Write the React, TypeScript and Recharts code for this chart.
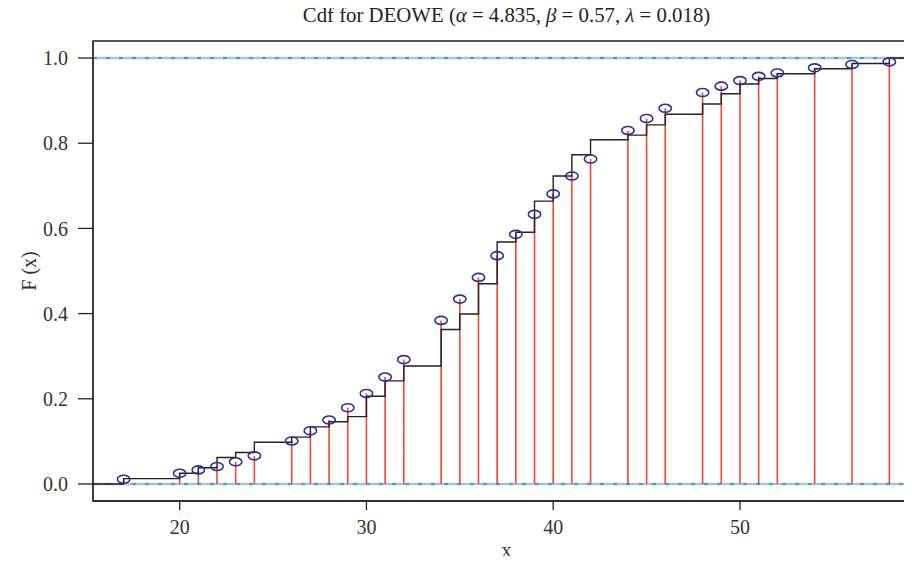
import { ComposedChart, Line, Scatter, XAxis, YAxis, ReferenceLine, ReferenceArea } from 'recharts';

// observed values (x) with empirical cdf and fitted DEOWE cdf
const xValues = [17, 20, 21, 22, 23, 24, 26, 27, 28, 29, 30, 31, 32, 34, 35, 36, 37, 38, 39, 40, 41, 42, 44, 45, 46, 48, 49, 50, 51, 52, 54, 56, 58];
const empiricalCdf = [0.0125, 0.025, 0.038, 0.062, 0.074, 0.098, 0.110, 0.134, 0.146, 0.158, 0.206, 0.242, 0.277, 0.3625, 0.399, 0.470, 0.568, 0.591, 0.664, 0.723, 0.773, 0.808, 0.819, 0.843, 0.868, 0.892, 0.916, 0.939, 0.952, 0.963, 0.975, 0.987, 1.0];
const fittedCdf = [0.011, 0.025, 0.033, 0.041, 0.052, 0.066, 0.101, 0.125, 0.150, 0.179, 0.2125, 0.251, 0.292, 0.384, 0.434, 0.485, 0.536, 0.586, 0.633, 0.681, 0.723, 0.763, 0.830, 0.858, 0.882, 0.919, 0.934, 0.947, 0.957, 0.965, 0.977, 0.985, 0.991];

const xTicks = [20, 30, 40, 50];
const yTicks = [0, 0.2, 0.4, 0.6, 0.8, 1.0];
const xDomain: [number, number] = [15.36, 59.64];
const yDomain: [number, number] = [-0.04, 1.04];

const FONT = '"Liberation Serif", "DejaVu Serif", serif';

// step function: flat at 0 from the left edge, then the ecdf jumps, flat at 1 to the right edge
const stepData = [
  { x: xDomain[0], y: 0 },
  ...xValues.map((x, i) => ({ x, y: empiricalCdf[i] })),
  { x: xDomain[1], y: 1 },
];

// vertical stems from 0 to the fitted cdf, separated by nulls
const stemData = xValues.flatMap((x, i) => [
  { x, y: 0 },
  { x, y: fittedCdf[i] },
  { x, y: null },
]);

const pointData = xValues.map((x, i) => ({ x, y: fittedCdf[i] }));

const Ellipse = (props: any) => {
  const { cx, cy } = props;
  if (cx == null || cy == null) return null;
  return <ellipse cx={cx} cy={cy} rx={6.2} ry={4} fill="none" stroke="#2e2e9e" strokeWidth={1.6} />;
};

const tickStyle = { fill: '#333', fontSize: 20, fontFamily: FONT };
const axisStroke = { stroke: '#222', strokeWidth: 1.3 };
const labelStyle = { fontSize: 20, fontFamily: FONT, fill: '#333' };

export default function App() {
  return (
    <div style={{ position: 'relative', width: 912, height: 564, margin: -8, overflow: 'hidden', background: '#fff' }}>
      <ComposedChart width={930} height={564} margin={{ top: 41, right: 10, bottom: 23, left: 0 }}>
        <XAxis
          type="number"
          dataKey="x"
          domain={xDomain}
          ticks={xTicks}
          allowDataOverflow
          height={40}
          tickSize={9}
          tickMargin={10}
          axisLine={axisStroke}
          tickLine={axisStroke}
          tick={tickStyle}
          label={{ value: 'x', position: 'bottom', offset: 2, fontSize: 20, style: labelStyle }}
        />
        <YAxis
          type="number"
          domain={yDomain}
          ticks={yTicks}
          allowDataOverflow
          width={93}
          tickSize={15}
          tickMargin={10}
          axisLine={axisStroke}
          tickLine={axisStroke}
          tick={tickStyle}
          tickFormatter={(v: number) => v.toFixed(1)}
          label={{ value: 'F (x)', angle: -90, position: 'insideLeft', offset: 29, fontSize: 20, style: { ...labelStyle, textAnchor: 'middle' } }}
        />
        <ReferenceArea x1={xDomain[0]} x2={xDomain[1]} y1={yDomain[0]} y2={yDomain[1]} fill="none" stroke="#222" strokeWidth={1.3} ifOverflow="visible" />
        <ReferenceLine y={0} stroke="#a9c6d9" strokeWidth={2.5} />
        <ReferenceLine y={0} stroke="#1f8fd6" strokeWidth={1.5} strokeDasharray="4 9" />
        <ReferenceLine y={1} stroke="#a9c6d9" strokeWidth={2.5} />
        <ReferenceLine y={1} stroke="#1f8fd6" strokeWidth={1.5} strokeDasharray="4 9" />
        <Line data={stemData} dataKey="y" type="linear" stroke="#ef4a2b" strokeWidth={1.6} dot={false} connectNulls={false} isAnimationActive={false} />
        <Line data={stepData} dataKey="y" type="stepAfter" stroke="#222" strokeWidth={1.4} dot={false} isAnimationActive={false} />
        <Scatter data={pointData} dataKey="y" shape={<Ellipse />} isAnimationActive={false} />
      </ComposedChart>
      <div
        style={{
          position: 'absolute',
          left: 0,
          top: 3,
          width: 1013,
          textAlign: 'center',
          fontFamily: FONT,
          fontSize: 20.8,
          lineHeight: '24px',
          color: '#222',
          whiteSpace: 'nowrap',
        }}
      >
        Cdf for DEOWE (<i>α</i> = 4.835, <i>β</i> = 0.57, <i>λ</i> = 0.018)
      </div>
    </div>
  );
}
